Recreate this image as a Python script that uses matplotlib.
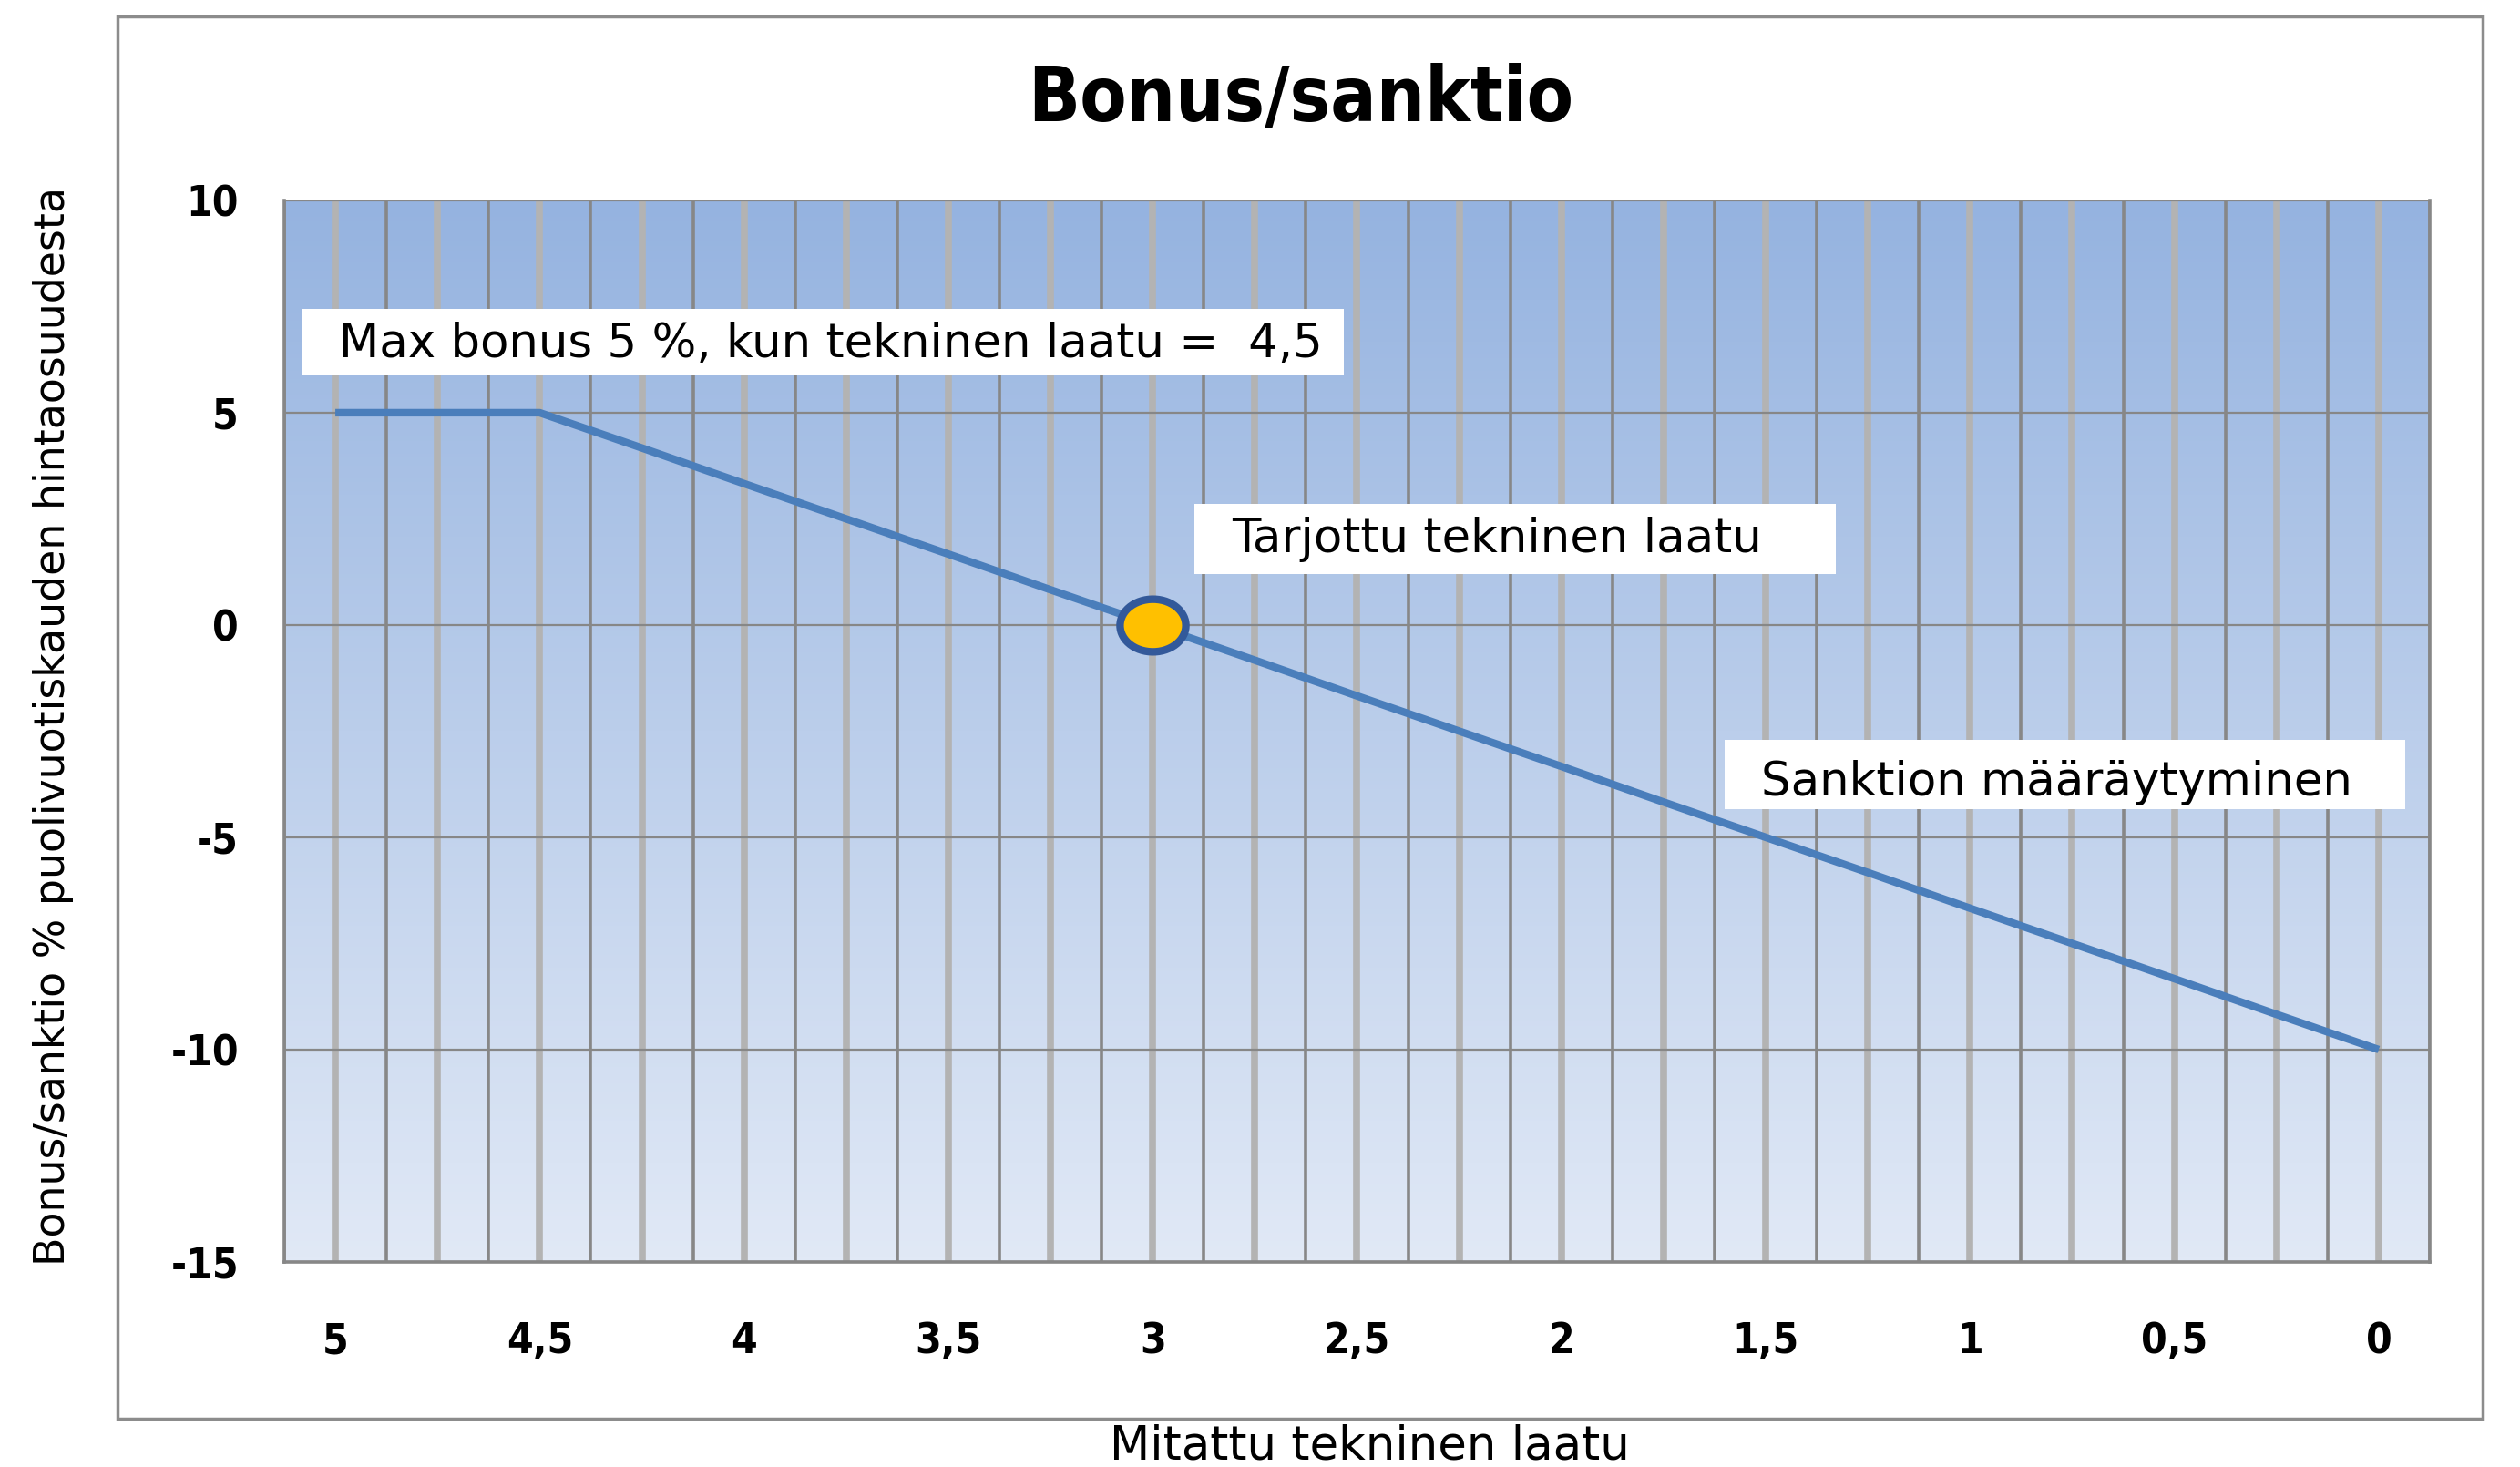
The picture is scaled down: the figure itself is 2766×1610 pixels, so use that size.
import matplotlib
matplotlib.use("Agg")
import matplotlib.pyplot as plt
import numpy as np
from matplotlib.colors import LinearSegmentedColormap
from matplotlib.patches import Rectangle
from matplotlib.path import Path

# measured technical quality (category axis, from 5 down to 0)
QUALITY = [5, 4.75, 4.5, 4.25, 4, 3.75, 3.5, 3.25, 3, 2.75, 2.5,
           2.25, 2, 1.75, 1.5, 1.25, 1, 0.75, 0.5, 0.25, 0]
# bonus / sanction in % of the half-year price share
BONUS = [5, 5, 5, 4.17, 3.33, 2.5, 1.67, 0.83, 0, -0.83, -1.67,
         -2.5, -3.33, -4.17, -5, -5.83, -6.67, -7.5, -8.33, -9.17, -10]
X_LABELS = ["5", "4,5", "4", "3,5", "3", "2,5", "2", "1,5", "1", "0,5", "0"]
Y_TICKS = [-15, -10, -5, 0, 5, 10]
OFFERED_QUALITY = 3
OFFERED_BONUS = 0

TITLE = "Bonus/sanktio"
X_TITLE = "Mitattu tekninen laatu"
Y_TITLE = "Bonus/sanktio % puolivuotiskauden hintaosuudesta"
NOTES = (
    # text, box (x0, y0, x1, y1) and text anchor in axes fractions
    ("Max bonus 5 %, kun tekninen laatu =  4,5", (0.0084, 0.8353, 0.494, 0.8976), (0.0253, 0.8643)),
    ("Tarjottu tekninen laatu", (0.4242, 0.6476, 0.7231, 0.7142), (0.4415, 0.6809)),
    ("Sanktion määräytyminen", (0.6712, 0.4266, 0.9886, 0.4915), (0.6885, 0.4514)),
)

plt.rcParams["font.family"] = ["DejaVu Sans"]

fig = plt.figure(figsize=(27.66, 16.10), dpi=100)
ax = fig.add_axes([0.1128, 0.1398, 0.8514, 0.7236])

# gradient plot area
cmap = LinearSegmentedColormap.from_list("bg", ["#95b3e0", "#e1e9f6"])
grad = np.linspace(0, 1, 256).reshape(-1, 1)
ax.imshow(grad, cmap=cmap, extent=[0, 1, 0, 1], transform=ax.transAxes,
          aspect="auto", zorder=0)

idx = np.arange(len(QUALITY))
for i in idx:
    ax.axvline(i, color="#b3b3b3", linewidth=5.5, zorder=1)
for i in np.arange(-0.5, len(QUALITY), 1.0):
    ax.axvline(i, color="#878787", linewidth=2.6, zorder=1.5)
for y in Y_TICKS:
    ax.axhline(y, color="#878787", linewidth=1.6, zorder=1.6)

ax.plot(idx, BONUS, color="#4a7ebb", linewidth=6.0, solid_capstyle="butt", zorder=3)

# elliptical marker for the offered quality
t = np.linspace(0, 2 * np.pi, 60)
ellipse = Path(np.column_stack([np.cos(t), 0.8 * np.sin(t)]), closed=True)
ax.plot([QUALITY.index(OFFERED_QUALITY)], [OFFERED_BONUS], linestyle="none",
        marker=ellipse, markersize=52, markerfacecolor="#ffc000",
        markeredgecolor="#33599a", markeredgewidth=6, zorder=5)

for text, (x0, y0, x1, y1), (tx, ty) in NOTES:
    ax.add_patch(Rectangle((x0, y0), x1 - x0, y1 - y0, transform=ax.transAxes,
                           facecolor="white", edgecolor="none", zorder=4))
    ax.text(tx, ty, text, transform=ax.transAxes, ha="left", va="center",
            fontsize=37, color="black", zorder=6)

ax.set_xlim(-0.5, len(QUALITY) - 0.5)
ax.set_ylim(min(Y_TICKS), max(Y_TICKS))
ax.set_xticks(idx[::2])
ax.set_xticklabels(X_LABELS, fontweight="bold", fontsize=33, fontstretch="condensed")
ax.set_yticks(Y_TICKS)
ax.set_yticklabels([str(v) for v in Y_TICKS], fontweight="bold", fontsize=33,
                   fontstretch="condensed")
ax.tick_params(axis="both", length=0)
ax.tick_params(axis="x", pad=47)
ax.tick_params(axis="y", pad=36)

for side in ("left", "right", "bottom"):
    ax.spines[side].set_color("#878787")
    ax.spines[side].set_linewidth(2.6)
ax.spines["top"].set_visible(False)

fig.text(0.516, 0.932, TITLE, ha="center", va="center", fontweight="bold",
         fontsize=60, fontstretch="condensed")
fig.text(0.5435, 0.014, X_TITLE, ha="center", va="center", fontsize=37)
fig.text(0.0213, 0.505, Y_TITLE, ha="center", va="center", rotation=90, fontsize=33)

fig.patches.append(Rectangle((0.0466, 0.0329), 0.9385, 0.9559, transform=fig.transFigure,
                             fill=False, edgecolor="#8c8c8c", linewidth=2.5))

fig.savefig("out.png", dpi=100, facecolor="white")
